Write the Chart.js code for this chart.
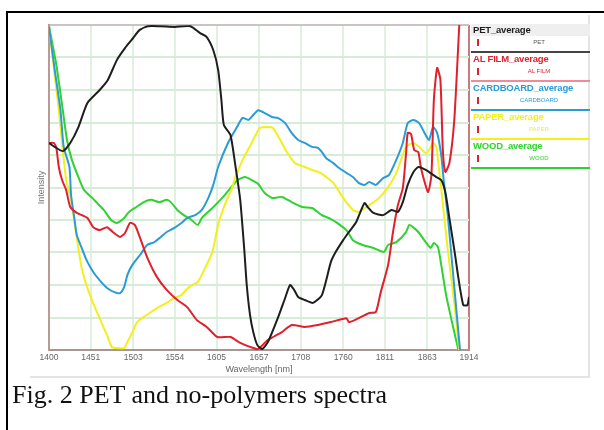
<!DOCTYPE html>
<html>
<head>
<meta charset="utf-8">
<script src="https://cdn.jsdelivr.net/npm/chart.js@4.4.1/dist/chart.umd.min.js"></script>
<style>
    body { margin: 0; background: #fff; }
    #page { position: relative; width: 604px; height: 430px; overflow: hidden; font-family: "Liberation Sans", Arial, sans-serif; }
    #frame { position: absolute; left: 6px; top: 11px; width: 600px; height: 425px; border-top: 2px solid #000; border-left: 2px solid #000; }
    #panel { position: absolute; left: 30px; top: 15px; width: 558px; height: 361px; border-right: 2px solid #e4e4e4; border-bottom: 2px solid #e4e4e4; }
    #spectra-chart { position: absolute; left: 0; top: 0; }
    #legend { position: absolute; left: 471px; top: 24px; width: 119px; }
    .item { position: relative; height: 27px; border-bottom: 2px solid; }
    .ttl { font-size: 9.5px; font-weight: bold; line-height: 12px; padding-left: 2px; white-space: nowrap; letter-spacing: -0.2px; }
    .mk { position: absolute; left: 6px; top: 15px; width: 2px; height: 7px; background: #e0202c; }
    .nm { position: absolute; left: 68px; top: 14px; transform: translateX(-50%); font-size: 6px; line-height: 8px; white-space: nowrap; }
    #caption { position: absolute; left: 12px; top: 382px; font-family: "Liberation Serif", "Times New Roman", serif; font-size: 26px; line-height: 26px; color: #111; white-space: nowrap; }
</style>
</head>
<body>
<div id="page">
    <div id="frame"></div>
    <div id="panel"></div>
    <canvas id="spectra-chart" width="604" height="430"></canvas>
    <div id="legend"></div>
    <div id="caption">Fig. 2 PET and no-polymers spectra</div>
</div>
<script>
// spectra (wavelength in nm, intensity in % of plot height)

const tickLabels = [1400, 1451, 1503, 1554, 1605, 1657, 1708, 1760, 1811, 1863, 1914];

const seriesNames = ["PET", "AL FILM", "CARDBOARD", "PAPER", "WOOD"];
const seriesColors = ["#1e1e1e", "#e0202c", "#2b9bd8", "#f3ef1c", "#2fd22f"];

const petWl = [1400, 1407, 1417, 1426, 1436, 1447, 1462, 1472, 1483, 1493, 1503, 1511, 1521, 1536, 1554, 1573, 1585, 1593, 1601, 1607, 1611, 1614, 1622, 1628, 1634, 1639, 1642, 1646, 1650, 1655, 1661, 1668, 1680, 1689, 1695, 1700, 1705, 1713, 1723, 1734, 1745, 1751, 1760, 1767, 1776, 1786, 1790, 1797, 1809, 1819, 1827, 1833, 1839, 1846, 1852, 1861, 1874, 1880, 1885, 1890, 1897, 1901, 1907, 1912, 1914];
const petInt = [63.7, 62.5, 61.2, 63.7, 68.6, 76.0, 80.0, 83.1, 89.2, 92.9, 96.0, 98.5, 99.6, 99.6, 99.4, 99.6, 97.5, 96.3, 92.3, 86.2, 76.9, 69.2, 66.2, 56.9, 46.2, 30.8, 20.0, 10.8, 5.5, 1.5, 0.3, 2.5, 9.8, 16.0, 20.0, 18.5, 16.3, 15.4, 14.5, 16.9, 27.1, 30.2, 33.8, 36.3, 39.4, 45.2, 44.0, 42.2, 41.5, 43.1, 42.5, 45.5, 50.8, 54.8, 56.3, 55.4, 53.2, 52.3, 48.6, 40.6, 29.2, 22.2, 13.8, 13.8, 16.3];

const alWl = [1400, 1406, 1409, 1412, 1416, 1421, 1426, 1434, 1447, 1454, 1462, 1471, 1478, 1487, 1493, 1499, 1505, 1511, 1520, 1532, 1544, 1557, 1569, 1581, 1593, 1606, 1622, 1634, 1650, 1656, 1668, 1685, 1697, 1713, 1729, 1745, 1764, 1767, 1779, 1792, 1800, 1806, 1815, 1821, 1827, 1833, 1837, 1839, 1843, 1847, 1852, 1855, 1859, 1864, 1868, 1871, 1875, 1879, 1882, 1885, 1890, 1896, 1902, 1905];
const alInt = [63.7, 63.7, 62.2, 56.3, 52.3, 49.2, 44.0, 42.2, 40.6, 37.8, 36.9, 37.8, 36.3, 34.8, 36.0, 39.1, 38.5, 34.8, 28.6, 22.5, 18.5, 15.4, 13.2, 9.2, 7.1, 4.0, 4.0, 2.2, 0.6, 0.3, 3.1, 5.5, 7.7, 7.1, 7.7, 8.6, 9.8, 8.6, 9.8, 11.4, 11.7, 17.8, 26.2, 36.3, 44.6, 49.8, 60.6, 66.8, 66.5, 61.5, 60.9, 56.3, 52.3, 48.6, 53.8, 76.9, 86.8, 83.1, 61.5, 54.8, 57.5, 70.8, 99.4, 112];

const cardWl = [1400, 1407, 1414, 1418, 1425, 1427, 1431, 1434, 1440, 1447, 1455, 1464, 1471, 1480, 1487, 1492, 1496, 1502, 1513, 1520, 1529, 1537, 1544, 1553, 1562, 1569, 1579, 1587, 1595, 1601, 1607, 1619, 1630, 1637, 1644, 1650, 1656, 1664, 1673, 1680, 1689, 1697, 1705, 1713, 1722, 1729, 1734, 1739, 1748, 1755, 1764, 1772, 1779, 1786, 1792, 1800, 1809, 1816, 1825, 1833, 1839, 1846, 1853, 1859, 1865, 1870, 1875, 1880, 1883, 1888, 1893, 1898, 1903];
const cardInt = [99.6, 86.2, 73.8, 62.5, 56.3, 47.7, 40.6, 35.4, 31.4, 27.1, 23.7, 20.9, 19.1, 17.8, 17.5, 19.4, 23.1, 26.2, 29.8, 32.3, 33.2, 34.8, 36.3, 37.5, 39.1, 40.6, 41.5, 43.1, 46.8, 50.8, 56.3, 63.7, 68.6, 71.4, 70.8, 72.3, 73.8, 72.9, 71.7, 71.4, 69.8, 66.8, 64.6, 63.7, 62.5, 62.2, 60.9, 59.1, 57.5, 56.0, 54.5, 53.2, 51.4, 50.8, 51.7, 50.8, 52.9, 53.8, 58.5, 63.7, 69.8, 70.8, 69.8, 67.1, 64.6, 68.6, 66.8, 60.0, 52.3, 41.5, 27.7, 13.8, 0];

const paperWl = [1400, 1407, 1412, 1416, 1421, 1425, 1428, 1434, 1440, 1447, 1455, 1464, 1471, 1477, 1482, 1492, 1496, 1502, 1508, 1516, 1525, 1532, 1544, 1553, 1562, 1570, 1575, 1582, 1591, 1600, 1607, 1615, 1624, 1628, 1637, 1648, 1658, 1667, 1674, 1683, 1691, 1701, 1713, 1722, 1732, 1741, 1748, 1760, 1772, 1779, 1792, 1804, 1816, 1825, 1837, 1846, 1853, 1861, 1865, 1870, 1874, 1877, 1880, 1886, 1891, 1897, 1902];
const paperInt = [99.6, 84.6, 73.8, 63.7, 52.3, 48.6, 44.6, 34.5, 25.2, 19.1, 13.8, 8.6, 4.6, 0.9, 0.6, 0.6, 2.5, 5.5, 8.6, 10.2, 11.7, 12.9, 14.5, 16.0, 16.9, 19.1, 20.0, 20.9, 25.2, 30.2, 38.5, 44.6, 49.8, 53.2, 58.5, 63.7, 68.3, 68.6, 68.3, 64.6, 60.9, 57.5, 56.3, 55.4, 54.5, 52.9, 51.4, 46.8, 43.1, 42.5, 44.6, 46.8, 50.5, 54.5, 62.5, 63.7, 62.5, 60.6, 61.5, 63.7, 62.5, 56.3, 49.8, 35.4, 24.6, 12.3, 0];

const woodWl = [1400, 1409, 1416, 1422, 1428, 1436, 1443, 1453, 1459, 1467, 1476, 1483, 1492, 1498, 1507, 1516, 1525, 1535, 1544, 1549, 1557, 1565, 1573, 1582, 1587, 1600, 1612, 1619, 1631, 1640, 1648, 1656, 1664, 1673, 1685, 1697, 1710, 1722, 1734, 1745, 1751, 1764, 1772, 1784, 1797, 1810, 1815, 1825, 1837, 1841, 1847, 1853, 1861, 1867, 1871, 1876, 1880, 1886, 1894, 1901];
const woodInt = [99.6, 87.7, 75.4, 64.6, 58.5, 53.2, 49.2, 46.8, 45.2, 43.1, 40.0, 39.1, 40.6, 42.5, 44.0, 45.5, 46.2, 45.5, 46.2, 45.5, 43.1, 41.5, 40.3, 38.5, 40.6, 43.7, 46.8, 48.9, 52.3, 53.2, 52.3, 51.1, 48.3, 46.8, 47.1, 45.5, 44.0, 43.7, 41.5, 40.3, 39.4, 36.9, 33.8, 32.3, 31.4, 30.2, 32.3, 33.2, 36.3, 38.5, 37.5, 36.0, 33.2, 31.4, 32.9, 31.7, 26.2, 16.9, 7.7, 0];

const seriesWl = [petWl, alWl, cardWl, paperWl, woodWl];
const seriesInt = [petInt, alInt, cardInt, paperInt, woodInt];

function toPoints(wl, vals) {
    return wl.map((w, i) => ({ x: w, y: vals[i] }));
}

// legend like the instrument software: "<name>_average" with a small sub label
const legendBox = document.getElementById("legend");
seriesNames.forEach((name, i) => {
    const item = document.createElement("div");
    item.className = "item";
    item.style.borderBottomColor = i === 0 ? "#444" : (i === 1 ? "#f08a96" : seriesColors[i]);
    if (i === 0) item.style.background = "linear-gradient(#efefef 0, #efefef 12px, transparent 12px)";
    item.innerHTML =
        '<div class="ttl" style="color:' + seriesColors[i] + '">' + name + '_average</div>' +
        '<div class="mk"></div>' +
        '<div class="nm" style="color:' + (i === 0 ? "#555" : seriesColors[i]) + '">' + name + '</div>';
    legendBox.appendChild(item);
});

new Chart(document.getElementById("spectra-chart"), {
    type: 'line',
    data: {
        datasets: seriesNames.map((name, i) => ({
            label: name + "_average",
            data: toPoints(seriesWl[i], seriesInt[i]),
            borderColor: seriesColors[i],
            borderWidth: 2,
            pointRadius: 0,
            tension: 0.2,
            fill: false
        }))
    },
    options: {
        responsive: false,
        animation: false,
        layout: { padding: { left: 30, top: 25, right: 135, bottom: 50 } },
        plugins: {
            legend: { display: false },
            tooltip: { enabled: false }
        },
        scales: {
            x: {
                type: 'linear',
                min: 1400,
                max: 1914,
                afterBuildTicks: axis => { axis.ticks = tickLabels.map(v => ({ value: v })); },
                afterFit: axis => { axis.height = 30; },
                ticks: {
                    autoSkip: false,
                    maxRotation: 0,
                    padding: 3,
                    color: '#666',
                    font: { family: 'Liberation Sans', size: 8.5 },
                    callback: v => String(v)
                },
                grid: {
                    drawTicks: false,
                    lineWidth: 2,
                    color: ctx => (ctx.tick && ctx.tick.value === 1914) ? '#c47c7c' : '#e0f1e0'
                },
                border: { color: '#a89690', width: 2 },
                title: {
                    display: true,
                    text: 'Wavelength [nm]',
                    color: '#666',
                    font: { family: 'Liberation Sans', size: 9 },
                    padding: { top: 0, bottom: 5 }
                }
            },
            y: {
                min: 0,
                max: 100,
                afterFit: axis => { axis.width = 19; },
                ticks: { display: false, stepSize: 10 },
                grid: {
                    drawTicks: false,
                    lineWidth: 2,
                    color: ctx => (ctx.tick && ctx.tick.value === 100) ? '#cbc3c3' : '#d6ecd6'
                },
                border: { color: '#b89c94', width: 2 },
                title: {
                    display: true,
                    text: 'Intensity',
                    color: '#777',
                    font: { family: 'Liberation Sans', size: 9 },
                    padding: { top: 6, bottom: 0 }
                }
            }
        }
    }
});
</script>
</body>
</html>
